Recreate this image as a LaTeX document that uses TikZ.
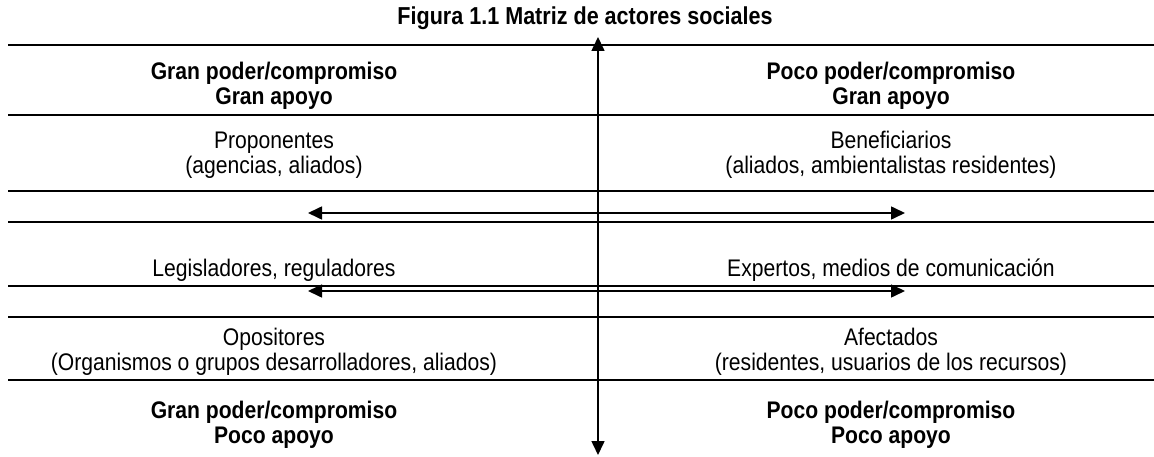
\documentclass[tikz,border=0pt]{standalone}
\usepackage{fontspec}
\setmainfont{Liberation Sans}[FakeStretch=0.88]
\usetikzlibrary{arrows.meta}

\tikzstyle{rule}=[draw=black, line width=1.4pt]
\tikzstyle{axis}=[draw=black, line width=1.6pt, {Triangle[length=14pt,width=13pt]}-{Triangle[length=14pt,width=13pt]}]
\tikzstyle{cell}=[align=center, inner sep=0pt, font=\fontsize{24}{25}\selectfont]
\tikzstyle{head}=[cell, font=\fontsize{24}{25}\selectfont\bfseries]

\begin{document}
\begin{tikzpicture}[x=1pt, y=-1pt]
\pgfmathsetmacro{\leftX}{274}
\pgfmathsetmacro{\rightX}{891}
\pgfmathsetmacro{\midX}{598}
\useasboundingbox (0,0) rectangle (1154,457);

\foreach \y in {45,115,191,222,286,317,380} {
    \draw[rule] (8,\y) -- (1154,\y);
}

\node[head, font=\fontsize{24.5}{25}\selectfont\bfseries] (title) at (585,18) {Figura 1.1 Matriz de actores sociales};

\node[head] (hiGran) at (\leftX,86) {Gran poder/compromiso\\Gran apoyo};
\node[head] (loGran) at (\rightX,86) {Poco poder/compromiso\\Gran apoyo};
\node[cell] (prop) at (\leftX,155) {Proponentes\\(agencias, aliados)};
\node[cell] (benef) at (\rightX,155) {Beneficiarios\\(aliados, ambientalistas residentes)};
\node[cell] (legis) at (\leftX,270) {Legisladores, reguladores};
\node[cell] (exp) at (\rightX,270) {Expertos, medios de comunicación};
\node[cell] (opos) at (\leftX,352) {Opositores\\(Organismos o grupos desarrolladores, aliados)};
\node[cell] (afect) at (\rightX,352) {Afectados\\(residentes, usuarios de los recursos)};
\node[head] (hiPoco) at (\leftX,425) {Gran poder/compromiso\\Poco apoyo};
\node[head] (loPoco) at (\rightX,425) {Poco poder/compromiso\\Poco apoyo};

\coordinate (top) at (\midX,37);
\coordinate (bottom) at (\midX,455);
\coordinate (westA) at (308,213);
\coordinate (eastA) at (905,213);
\coordinate (westB) at (308,291);
\coordinate (eastB) at (905,291);

\draw[axis] (bottom) -- (top);
\draw[axis] (westA) -- (eastA);
\draw[axis] (westB) -- (eastB);
\end{tikzpicture}
\end{document}
